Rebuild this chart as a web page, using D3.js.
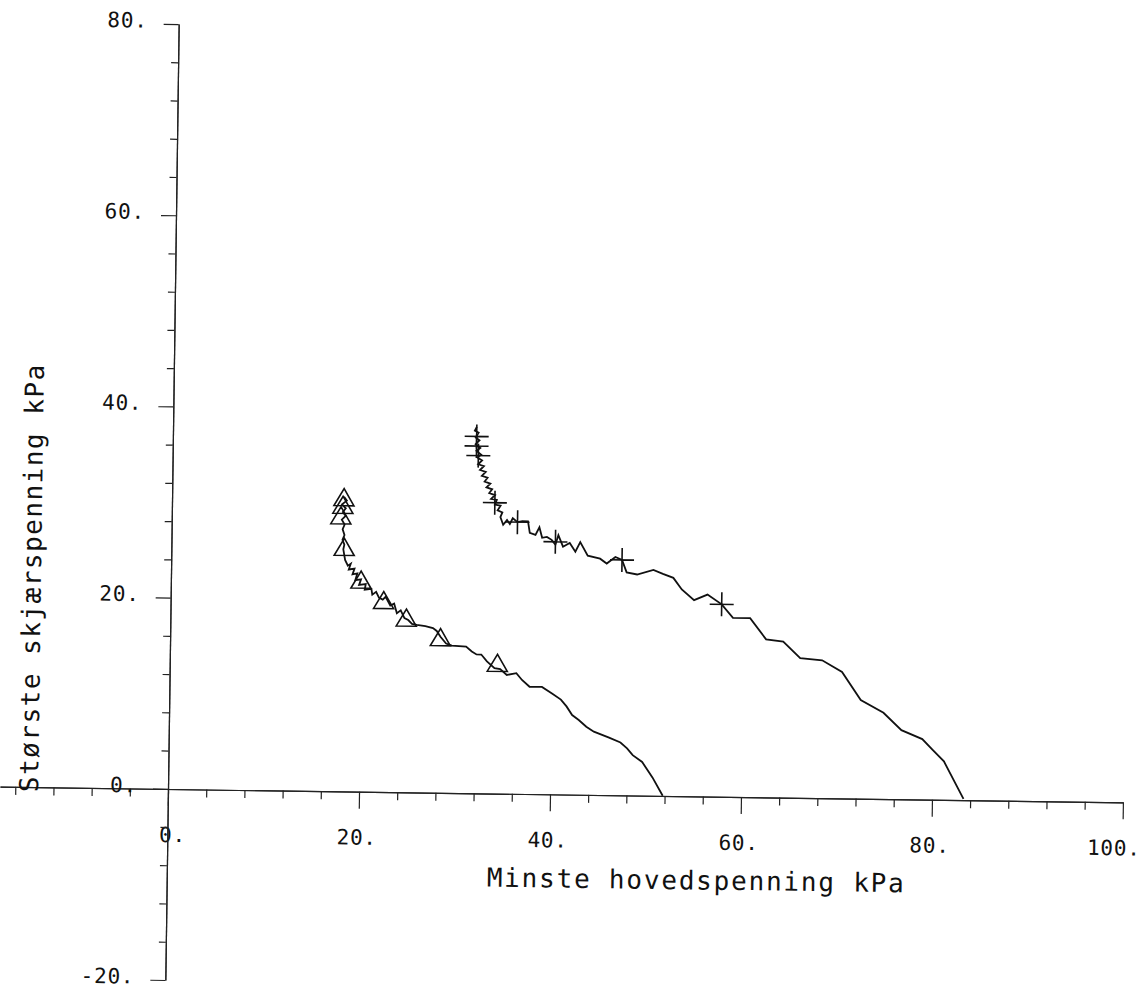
<!DOCTYPE html>
<html>
<head>
<meta charset="utf-8">
<script src="https://cdn.jsdelivr.net/npm/d3@7"></script>
<style>
body { margin: 0; background: #fff; }
svg text { font-family: "DejaVu Sans Mono", monospace; fill: #111; }
</style>
</head>
<body>
<svg width="1145" height="989"></svg>
<script>
// test curve with triangle markers (sigma3, tau max)
var triCurve = [[18.0,30.8],[18.3,30.4],[17.8,30.0],[18.2,29.6],[17.9,29.2],[18.2,28.8],[17.8,28.4],[18.1,27.9],
    [17.9,27.4],[18.1,26.8],[17.9,26.3],[18.1,25.8],[18.0,25.3],[18.2,24.2],[18.5,23.6],[18.8,23.8],[18.6,23.2],
    [19.2,23.3],[19.0,22.7],[19.5,22.8],[19.3,22.1],[19.9,22.2],[19.7,21.6],[20.4,21.7],[20.3,21.1],[21.0,21.2],
    [21.1,20.6],[21.5,20.9],[21.8,20.3],[22.2,20.1],[22.5,20.4],[23.0,19.5],[23.4,19.7],[23.7,18.7],[24.1,19.0],
    [24.5,18.2],[24.9,18.0],[25.3,17.6],[25.8,17.5],[26.7,17.4],[27.5,17.2],[27.9,16.9],[28.3,16.3],[28.9,15.6],
    [29.5,15.4],[31.0,15.3],[31.6,14.8],[32.1,14.5],[32.6,14.5],[33.2,13.8],[34.0,13.1],[34.6,13.0],[35.3,12.4],
    [36.3,12.6],[36.9,11.9],[37.7,11.2],[39.0,11.2],[40.1,10.5],[41.0,9.9],[41.6,9.2],[42.2,8.3],[42.9,7.8],
    [43.7,7.1],[44.5,6.6],[46.1,6.0],[47.3,5.5],[48.0,4.9],[48.6,4.2],[49.6,3.5],[50.7,1.9],[51.8,0.0]];
var triMarks = [[18.0,30.6],[17.9,29.8],[17.7,28.7],[18.1,25.4],[19.9,22.0],[22.3,19.9],[24.7,18.1],[28.3,16.1],[34.3,13.5]];

// test curve with plus markers
var plusCurve = [[31.8,38.3],[31.6,37.9],[32.0,37.7],[31.7,37.2],[32.1,36.9],[31.7,36.5],[32.2,36.1],[31.8,35.8],
    [32.3,35.4],[31.9,35.1],[32.4,34.8],[32.0,34.4],[32.6,34.2],[32.2,33.8],[32.8,33.6],[32.4,33.2],[33.0,33.0],
    [32.7,32.6],[33.3,32.4],[32.9,32.0],[33.5,31.8],[33.2,31.4],[33.8,31.2],[33.4,30.8],[34.0,30.7],[33.8,30.2],
    [34.4,30.1],[34.1,29.6],[34.6,29.4],[34.4,28.9],[34.7,28.1],[35.1,28.6],[35.4,28.2],[35.7,28.8],[36.2,28.4],
    [36.7,28.5],[37.3,28.5],[37.5,27.3],[38.1,27.1],[38.5,27.9],[38.8,26.8],[39.3,26.9],[39.8,26.6],[40.2,26.1],
    [40.5,27.1],[41.0,25.9],[41.7,26.3],[42.3,25.4],[42.8,26.4],[43.6,25.0],[44.9,24.7],[45.6,24.2],[46.5,24.9],
    [47.2,24.6],[47.7,23.3],[48.8,23.1],[50.5,23.6],[51.5,23.2],[52.6,22.8],[53.5,21.6],[54.8,20.5],[56.2,21.1],
    [57.7,20.1],[58.9,18.7],[60.7,18.7],[62.4,16.5],[64.2,16.3],[66.0,14.6],[68.3,14.4],[70.4,13.2],[72.4,10.3],
    [74.8,9.0],[76.7,7.2],[78.9,6.3],[80.0,5.2],[81.2,4.0],[83.3,0.1]];
var plusMarks = [[31.8,37.3],[31.8,36.3],[32.0,35.3],[33.8,30.4],[36.2,28.4],[40.2,26.4],[47.2,24.6],[57.7,20.1]];

var xMajor = [0, 20, 40, 60, 80, 100];
var xMinor = d3.range(-16, 101, 4).filter(function(d) { return d % 20 !== 0; });
var yMajor = [-20, 0, 20, 40, 60, 80];
var yMinor = d3.range(-16, 80, 4).filter(function(d) { return d % 20 !== 0; });

var xTitle = "Minste hovedspenning kPa";
var yTitle = "Største skjærspenning kPa";

var svg = d3.select("svg");

// the scanned plot is turned a little, so the whole frame is too
var g = svg.append("g")
    .attr("transform", "translate(168,789) rotate(0.8)");

var x = d3.scaleLinear().domain([-17.6, 100]).range([-168, 955]);
var y = d3.scaleLinear().domain([-20, 80]).range([191, -765]);

function styleAxis(sel) {
    sel.attr("font-family", null)
        .attr("font-size", 21)
        .style("color", "#222");
    sel.selectAll("path, line").attr("stroke-width", 1.2);
}

g.append("g")
    .call(d3.axisBottom(x).tickValues(xMinor).tickSize(8).tickSizeOuter(0).tickFormat(""))
    .call(styleAxis);

var xAxis = g.append("g")
    .call(d3.axisBottom(x).tickValues(xMajor).tickSize(17).tickSizeOuter(0)
        .tickFormat(function(d) { return d + "."; }))
    .call(styleAxis);

xAxis.selectAll("text")
    .attr("x", 18)
    .attr("y", 53)
    .attr("dy", null)
    .attr("text-anchor", "end")
    .attr("letter-spacing", 0.8);

g.append("g")
    .call(d3.axisLeft(y).tickValues(yMinor).tickSize(7).tickSizeOuter(0).tickFormat(""))
    .call(styleAxis);

var yAxis = g.append("g")
    .call(d3.axisLeft(y).tickValues(yMajor).tickSize(15).tickSizeOuter(0)
        .tickFormat(function(d) { return d + "."; }))
    .call(styleAxis);

yAxis.selectAll("text")
    .attr("x", -31)
    .attr("y", 3.5)
    .attr("dy", null)
    .attr("text-anchor", "end")
    .attr("letter-spacing", 0.8);

g.append("text")
    .attr("x", 320)
    .attr("y", 93)
    .attr("font-size", 26)
    .attr("letter-spacing", 1.8)
    .text(xTitle);

g.append("text")
    .attr("transform", "translate(-130,5) rotate(-90)")
    .attr("font-size", 26)
    .attr("letter-spacing", 1.5)
    .text(yTitle);

var line = d3.line()
    .x(function(d) { return x(d[0]); })
    .y(function(d) { return y(d[1]); });

g.append("path")
    .datum(triCurve)
    .attr("d", line)
    .attr("fill", "none")
    .attr("stroke", "#111")
    .attr("stroke-width", 1.8);

g.append("path")
    .datum(plusCurve)
    .attr("d", line)
    .attr("fill", "none")
    .attr("stroke", "#111")
    .attr("stroke-width", 1.8);

g.selectAll(".tri")
    .data(triMarks)
    .enter()
    .append("path")
    .attr("class", "tri")
    .attr("transform", function(d) { return "translate(" + x(d[0]) + "," + y(d[1]) + ")"; })
    .attr("d", "M-10,7L10,7L0,-10Z")
    .attr("fill", "none")
    .attr("stroke", "#111")
    .attr("stroke-width", 1.6);

g.selectAll(".plus")
    .data(plusMarks)
    .enter()
    .append("path")
    .attr("class", "plus")
    .attr("transform", function(d) { return "translate(" + x(d[0]) + "," + y(d[1]) + ")"; })
    .attr("d", "M-12,0H12M0,-12V12")
    .attr("fill", "none")
    .attr("stroke", "#111")
    .attr("stroke-width", 1.6);
</script>
</body>
</html>
